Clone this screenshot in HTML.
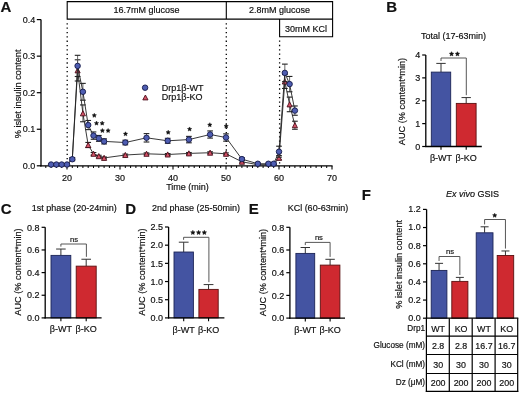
<!DOCTYPE html>
<html><head><meta charset="utf-8"><style>
html,body{margin:0;padding:0;background:#fff;}
body{width:520px;height:393px;overflow:hidden;}
svg{display:block;font-family:"Liberation Sans",sans-serif;will-change:transform;}
text{fill:#111;stroke:#111;stroke-width:0.18px;}
</style></head><body>
<svg width="520" height="393" viewBox="0 0 520 393">
<rect width="520" height="393" fill="#fff"/>
<g id="panelA">
<text x="0.5" y="12.2" font-size="15" font-weight="bold">A</text>
<path d="M67.2 19.1V1.6H332.6V36.8H279.6V19.1Z M67.2 19.1H332.6 M226.3 1.6V19.1" fill="none" stroke="#000" stroke-width="1.1"/>
<text x="146.5" y="12.8" font-size="9" text-anchor="middle">16.7mM glucose</text>
<text x="279.5" y="12.8" font-size="9" text-anchor="middle">2.8mM glucose</text>
<text x="306" y="31.6" font-size="9" text-anchor="middle">30mM KCl</text>
<line x1="67.2" y1="23.2" x2="67.2" y2="165" stroke="#000" stroke-width="1.3" stroke-dasharray="1.3 3.05"/>
<line x1="226.3" y1="23.2" x2="226.3" y2="165" stroke="#000" stroke-width="1.3" stroke-dasharray="1.3 3.05"/>
<line x1="279.6" y1="40.5" x2="279.6" y2="165" stroke="#000" stroke-width="1.3" stroke-dasharray="1.3 3.05"/>
<line x1="41" y1="19.5" x2="41" y2="166.4" stroke="#000" stroke-width="1.3"/>
<line x1="36.8" y1="165.8" x2="41" y2="165.8" stroke="#000" stroke-width="1.2"/>
<text x="35.2" y="169" font-size="9" text-anchor="end">0.0</text>
<line x1="36.8" y1="129.25" x2="41" y2="129.25" stroke="#000" stroke-width="1.2"/>
<text x="35.2" y="132.45" font-size="9" text-anchor="end">0.1</text>
<line x1="36.8" y1="92.7" x2="41" y2="92.7" stroke="#000" stroke-width="1.2"/>
<text x="35.2" y="95.9" font-size="9" text-anchor="end">0.2</text>
<line x1="36.8" y1="56.15" x2="41" y2="56.15" stroke="#000" stroke-width="1.2"/>
<text x="35.2" y="59.35" font-size="9" text-anchor="end">0.3</text>
<line x1="36.8" y1="19.6" x2="41" y2="19.6" stroke="#000" stroke-width="1.2"/>
<text x="35.2" y="22.8" font-size="9" text-anchor="end">0.4</text>
<line x1="40.4" y1="165.9" x2="332.6" y2="165.9" stroke="#000" stroke-width="1.3"/>
<line x1="45.8" y1="165.9" x2="45.8" y2="168" stroke="#000" stroke-width="1"/>
<line x1="51.1" y1="165.9" x2="51.1" y2="168" stroke="#000" stroke-width="1"/>
<line x1="56.4" y1="165.9" x2="56.4" y2="168" stroke="#000" stroke-width="1"/>
<line x1="61.7" y1="165.9" x2="61.7" y2="168" stroke="#000" stroke-width="1"/>
<line x1="67" y1="165.9" x2="67" y2="169.6" stroke="#000" stroke-width="1.1"/>
<line x1="72.3" y1="165.9" x2="72.3" y2="168" stroke="#000" stroke-width="1"/>
<line x1="77.6" y1="165.9" x2="77.6" y2="168" stroke="#000" stroke-width="1"/>
<line x1="82.9" y1="165.9" x2="82.9" y2="168" stroke="#000" stroke-width="1"/>
<line x1="88.2" y1="165.9" x2="88.2" y2="168" stroke="#000" stroke-width="1"/>
<line x1="93.5" y1="165.9" x2="93.5" y2="168" stroke="#000" stroke-width="1"/>
<line x1="98.8" y1="165.9" x2="98.8" y2="168" stroke="#000" stroke-width="1"/>
<line x1="104.1" y1="165.9" x2="104.1" y2="168" stroke="#000" stroke-width="1"/>
<line x1="109.4" y1="165.9" x2="109.4" y2="168" stroke="#000" stroke-width="1"/>
<line x1="114.7" y1="165.9" x2="114.7" y2="168" stroke="#000" stroke-width="1"/>
<line x1="120" y1="165.9" x2="120" y2="169.6" stroke="#000" stroke-width="1.1"/>
<line x1="125.3" y1="165.9" x2="125.3" y2="168" stroke="#000" stroke-width="1"/>
<line x1="130.6" y1="165.9" x2="130.6" y2="168" stroke="#000" stroke-width="1"/>
<line x1="135.9" y1="165.9" x2="135.9" y2="168" stroke="#000" stroke-width="1"/>
<line x1="141.2" y1="165.9" x2="141.2" y2="168" stroke="#000" stroke-width="1"/>
<line x1="146.5" y1="165.9" x2="146.5" y2="168" stroke="#000" stroke-width="1"/>
<line x1="151.8" y1="165.9" x2="151.8" y2="168" stroke="#000" stroke-width="1"/>
<line x1="157.1" y1="165.9" x2="157.1" y2="168" stroke="#000" stroke-width="1"/>
<line x1="162.4" y1="165.9" x2="162.4" y2="168" stroke="#000" stroke-width="1"/>
<line x1="167.7" y1="165.9" x2="167.7" y2="168" stroke="#000" stroke-width="1"/>
<line x1="173" y1="165.9" x2="173" y2="169.6" stroke="#000" stroke-width="1.1"/>
<line x1="178.3" y1="165.9" x2="178.3" y2="168" stroke="#000" stroke-width="1"/>
<line x1="183.6" y1="165.9" x2="183.6" y2="168" stroke="#000" stroke-width="1"/>
<line x1="188.9" y1="165.9" x2="188.9" y2="168" stroke="#000" stroke-width="1"/>
<line x1="194.2" y1="165.9" x2="194.2" y2="168" stroke="#000" stroke-width="1"/>
<line x1="199.5" y1="165.9" x2="199.5" y2="168" stroke="#000" stroke-width="1"/>
<line x1="204.8" y1="165.9" x2="204.8" y2="168" stroke="#000" stroke-width="1"/>
<line x1="210.1" y1="165.9" x2="210.1" y2="168" stroke="#000" stroke-width="1"/>
<line x1="215.4" y1="165.9" x2="215.4" y2="168" stroke="#000" stroke-width="1"/>
<line x1="220.7" y1="165.9" x2="220.7" y2="168" stroke="#000" stroke-width="1"/>
<line x1="226" y1="165.9" x2="226" y2="169.6" stroke="#000" stroke-width="1.1"/>
<line x1="231.3" y1="165.9" x2="231.3" y2="168" stroke="#000" stroke-width="1"/>
<line x1="236.6" y1="165.9" x2="236.6" y2="168" stroke="#000" stroke-width="1"/>
<line x1="241.9" y1="165.9" x2="241.9" y2="168" stroke="#000" stroke-width="1"/>
<line x1="247.2" y1="165.9" x2="247.2" y2="168" stroke="#000" stroke-width="1"/>
<line x1="252.5" y1="165.9" x2="252.5" y2="168" stroke="#000" stroke-width="1"/>
<line x1="257.8" y1="165.9" x2="257.8" y2="168" stroke="#000" stroke-width="1"/>
<line x1="263.1" y1="165.9" x2="263.1" y2="168" stroke="#000" stroke-width="1"/>
<line x1="268.4" y1="165.9" x2="268.4" y2="168" stroke="#000" stroke-width="1"/>
<line x1="273.7" y1="165.9" x2="273.7" y2="168" stroke="#000" stroke-width="1"/>
<line x1="279" y1="165.9" x2="279" y2="169.6" stroke="#000" stroke-width="1.1"/>
<line x1="284.3" y1="165.9" x2="284.3" y2="168" stroke="#000" stroke-width="1"/>
<line x1="289.6" y1="165.9" x2="289.6" y2="168" stroke="#000" stroke-width="1"/>
<line x1="294.9" y1="165.9" x2="294.9" y2="168" stroke="#000" stroke-width="1"/>
<line x1="300.2" y1="165.9" x2="300.2" y2="168" stroke="#000" stroke-width="1"/>
<line x1="305.5" y1="165.9" x2="305.5" y2="168" stroke="#000" stroke-width="1"/>
<line x1="310.8" y1="165.9" x2="310.8" y2="168" stroke="#000" stroke-width="1"/>
<line x1="316.1" y1="165.9" x2="316.1" y2="168" stroke="#000" stroke-width="1"/>
<line x1="321.4" y1="165.9" x2="321.4" y2="168" stroke="#000" stroke-width="1"/>
<line x1="326.7" y1="165.9" x2="326.7" y2="168" stroke="#000" stroke-width="1"/>
<line x1="332" y1="165.9" x2="332" y2="169.6" stroke="#000" stroke-width="1.1"/>
<text x="67" y="180.6" font-size="9" text-anchor="middle">20</text>
<text x="120" y="180.6" font-size="9" text-anchor="middle">30</text>
<text x="173" y="180.6" font-size="9" text-anchor="middle">40</text>
<text x="226" y="180.6" font-size="9" text-anchor="middle">50</text>
<text x="279" y="180.6" font-size="9" text-anchor="middle">60</text>
<text x="332" y="180.6" font-size="9" text-anchor="middle">70</text>
<text x="187.5" y="190.2" font-size="9" text-anchor="middle">Time (min)</text>
<text transform="translate(20.6 93.9) rotate(-90)" font-size="9.25" text-anchor="middle">% islet insulin content</text>
<line x1="51.1" y1="164.7" x2="51.1" y2="165.43" stroke="#555" stroke-width="0.9"/>
<line x1="48.25" y1="164.7" x2="53.95" y2="164.7" stroke="#222" stroke-width="1.1"/>
<line x1="48.25" y1="165.43" x2="53.95" y2="165.43" stroke="#222" stroke-width="1.1"/>
<line x1="56.4" y1="164.7" x2="56.4" y2="165.43" stroke="#555" stroke-width="0.9"/>
<line x1="53.55" y1="164.7" x2="59.25" y2="164.7" stroke="#222" stroke-width="1.1"/>
<line x1="53.55" y1="165.43" x2="59.25" y2="165.43" stroke="#222" stroke-width="1.1"/>
<line x1="61.7" y1="164.7" x2="61.7" y2="165.43" stroke="#555" stroke-width="0.9"/>
<line x1="58.85" y1="164.7" x2="64.55" y2="164.7" stroke="#222" stroke-width="1.1"/>
<line x1="58.85" y1="165.43" x2="64.55" y2="165.43" stroke="#222" stroke-width="1.1"/>
<line x1="67" y1="164.7" x2="67" y2="165.43" stroke="#555" stroke-width="0.9"/>
<line x1="64.15" y1="164.7" x2="69.85" y2="164.7" stroke="#222" stroke-width="1.1"/>
<line x1="64.15" y1="165.43" x2="69.85" y2="165.43" stroke="#222" stroke-width="1.1"/>
<line x1="72.3" y1="157.69" x2="72.3" y2="159.88" stroke="#555" stroke-width="0.9"/>
<line x1="69.45" y1="157.69" x2="75.15" y2="157.69" stroke="#222" stroke-width="1.1"/>
<line x1="69.45" y1="159.88" x2="75.15" y2="159.88" stroke="#222" stroke-width="1.1"/>
<line x1="77.6" y1="59.8" x2="77.6" y2="81" stroke="#555" stroke-width="0.9"/>
<line x1="74.75" y1="59.8" x2="80.45" y2="59.8" stroke="#222" stroke-width="1.1"/>
<line x1="74.75" y1="81" x2="80.45" y2="81" stroke="#222" stroke-width="1.1"/>
<line x1="82.9" y1="104.94" x2="82.9" y2="121.76" stroke="#555" stroke-width="0.9"/>
<line x1="80.05" y1="104.94" x2="85.75" y2="104.94" stroke="#222" stroke-width="1.1"/>
<line x1="80.05" y1="121.76" x2="85.75" y2="121.76" stroke="#222" stroke-width="1.1"/>
<line x1="88.2" y1="142.44" x2="88.2" y2="147.56" stroke="#555" stroke-width="0.9"/>
<line x1="85.35" y1="142.44" x2="91.05" y2="142.44" stroke="#222" stroke-width="1.1"/>
<line x1="85.35" y1="147.56" x2="91.05" y2="147.56" stroke="#222" stroke-width="1.1"/>
<line x1="93.5" y1="152.53" x2="93.5" y2="155.09" stroke="#555" stroke-width="0.9"/>
<line x1="90.65" y1="152.53" x2="96.35" y2="152.53" stroke="#222" stroke-width="1.1"/>
<line x1="90.65" y1="155.09" x2="96.35" y2="155.09" stroke="#222" stroke-width="1.1"/>
<line x1="98.8" y1="155.27" x2="98.8" y2="157.1" stroke="#555" stroke-width="0.9"/>
<line x1="95.95" y1="155.27" x2="101.65" y2="155.27" stroke="#222" stroke-width="1.1"/>
<line x1="95.95" y1="157.1" x2="101.65" y2="157.1" stroke="#222" stroke-width="1.1"/>
<line x1="104.1" y1="156.99" x2="104.1" y2="158.82" stroke="#555" stroke-width="0.9"/>
<line x1="101.25" y1="156.99" x2="106.95" y2="156.99" stroke="#222" stroke-width="1.1"/>
<line x1="101.25" y1="158.82" x2="106.95" y2="158.82" stroke="#222" stroke-width="1.1"/>
<line x1="125.3" y1="154.1" x2="125.3" y2="155.93" stroke="#555" stroke-width="0.9"/>
<line x1="122.45" y1="154.1" x2="128.15" y2="154.1" stroke="#222" stroke-width="1.1"/>
<line x1="122.45" y1="155.93" x2="128.15" y2="155.93" stroke="#222" stroke-width="1.1"/>
<line x1="146.5" y1="152.9" x2="146.5" y2="154.73" stroke="#555" stroke-width="0.9"/>
<line x1="143.65" y1="152.9" x2="149.35" y2="152.9" stroke="#222" stroke-width="1.1"/>
<line x1="143.65" y1="154.73" x2="149.35" y2="154.73" stroke="#222" stroke-width="1.1"/>
<line x1="167.7" y1="153.59" x2="167.7" y2="155.42" stroke="#555" stroke-width="0.9"/>
<line x1="164.85" y1="153.59" x2="170.55" y2="153.59" stroke="#222" stroke-width="1.1"/>
<line x1="164.85" y1="155.42" x2="170.55" y2="155.42" stroke="#222" stroke-width="1.1"/>
<line x1="188.9" y1="152.5" x2="188.9" y2="154.32" stroke="#555" stroke-width="0.9"/>
<line x1="186.05" y1="152.5" x2="191.75" y2="152.5" stroke="#222" stroke-width="1.1"/>
<line x1="186.05" y1="154.32" x2="191.75" y2="154.32" stroke="#222" stroke-width="1.1"/>
<line x1="210.1" y1="151.8" x2="210.1" y2="153.63" stroke="#555" stroke-width="0.9"/>
<line x1="207.25" y1="151.8" x2="212.95" y2="151.8" stroke="#222" stroke-width="1.1"/>
<line x1="207.25" y1="153.63" x2="212.95" y2="153.63" stroke="#222" stroke-width="1.1"/>
<line x1="226" y1="152.9" x2="226" y2="154.73" stroke="#555" stroke-width="0.9"/>
<line x1="223.15" y1="152.9" x2="228.85" y2="152.9" stroke="#222" stroke-width="1.1"/>
<line x1="223.15" y1="154.73" x2="228.85" y2="154.73" stroke="#222" stroke-width="1.1"/>
<line x1="241.9" y1="160.68" x2="241.9" y2="162.88" stroke="#555" stroke-width="0.9"/>
<line x1="239.05" y1="160.68" x2="244.75" y2="160.68" stroke="#222" stroke-width="1.1"/>
<line x1="239.05" y1="162.88" x2="244.75" y2="162.88" stroke="#222" stroke-width="1.1"/>
<line x1="257.8" y1="164.34" x2="257.8" y2="165.07" stroke="#555" stroke-width="0.9"/>
<line x1="254.95" y1="164.34" x2="260.65" y2="164.34" stroke="#222" stroke-width="1.1"/>
<line x1="254.95" y1="165.07" x2="260.65" y2="165.07" stroke="#222" stroke-width="1.1"/>
<line x1="268.4" y1="164.34" x2="268.4" y2="165.07" stroke="#555" stroke-width="0.9"/>
<line x1="265.55" y1="164.34" x2="271.25" y2="164.34" stroke="#222" stroke-width="1.1"/>
<line x1="265.55" y1="165.07" x2="271.25" y2="165.07" stroke="#222" stroke-width="1.1"/>
<line x1="273.7" y1="164.34" x2="273.7" y2="165.07" stroke="#555" stroke-width="0.9"/>
<line x1="270.85" y1="164.34" x2="276.55" y2="164.34" stroke="#222" stroke-width="1.1"/>
<line x1="270.85" y1="165.07" x2="276.55" y2="165.07" stroke="#222" stroke-width="1.1"/>
<line x1="279" y1="155.57" x2="279" y2="159.95" stroke="#555" stroke-width="0.9"/>
<line x1="276.15" y1="155.57" x2="281.85" y2="155.57" stroke="#222" stroke-width="1.1"/>
<line x1="276.15" y1="159.95" x2="281.85" y2="159.95" stroke="#222" stroke-width="1.1"/>
<line x1="284.83" y1="74.57" x2="284.83" y2="88.46" stroke="#555" stroke-width="0.9"/>
<line x1="281.98" y1="74.57" x2="287.68" y2="74.57" stroke="#222" stroke-width="1.1"/>
<line x1="281.98" y1="88.46" x2="287.68" y2="88.46" stroke="#222" stroke-width="1.1"/>
<line x1="289.6" y1="97.09" x2="289.6" y2="111.71" stroke="#555" stroke-width="0.9"/>
<line x1="286.75" y1="97.09" x2="292.45" y2="97.09" stroke="#222" stroke-width="1.1"/>
<line x1="286.75" y1="111.71" x2="292.45" y2="111.71" stroke="#222" stroke-width="1.1"/>
<line x1="294.9" y1="121.21" x2="294.9" y2="129.25" stroke="#555" stroke-width="0.9"/>
<line x1="292.05" y1="121.21" x2="297.75" y2="121.21" stroke="#222" stroke-width="1.1"/>
<line x1="292.05" y1="129.25" x2="297.75" y2="129.25" stroke="#222" stroke-width="1.1"/>
<polyline points="51.1,165.07 56.4,165.07 61.7,165.07 67,165.07 72.3,158.78 77.6,70.4 82.9,113.35 88.2,145 93.5,153.81 98.8,156.19 104.1,157.91 125.3,155.02 146.5,153.81 167.7,154.51 188.9,153.41 210.1,152.72 226,153.81 241.9,161.78 257.8,164.7 268.4,164.7 273.7,164.7 279,157.76 284.83,81.52 289.6,104.4 294.9,125.23" fill="none" stroke="#222" stroke-width="0.9"/>
<path d="M77.6 67.8L80.15 72.9L75.05 72.9Z" fill="#d65468" stroke="#4a0c1a" stroke-width="0.9" stroke-linejoin="round"/>
<path d="M82.9 110.75L85.45 115.85L80.35 115.85Z" fill="#d65468" stroke="#4a0c1a" stroke-width="0.9" stroke-linejoin="round"/>
<path d="M88.2 142.4L90.75 147.5L85.65 147.5Z" fill="#d65468" stroke="#4a0c1a" stroke-width="0.9" stroke-linejoin="round"/>
<path d="M93.5 151.21L96.05 156.31L90.95 156.31Z" fill="#d65468" stroke="#4a0c1a" stroke-width="0.9" stroke-linejoin="round"/>
<path d="M98.8 153.59L101.35 158.69L96.25 158.69Z" fill="#d65468" stroke="#4a0c1a" stroke-width="0.9" stroke-linejoin="round"/>
<path d="M104.1 155.31L106.65 160.41L101.55 160.41Z" fill="#d65468" stroke="#4a0c1a" stroke-width="0.9" stroke-linejoin="round"/>
<path d="M125.3 152.42L127.85 157.52L122.75 157.52Z" fill="#d65468" stroke="#4a0c1a" stroke-width="0.9" stroke-linejoin="round"/>
<path d="M146.5 151.21L149.05 156.31L143.95 156.31Z" fill="#d65468" stroke="#4a0c1a" stroke-width="0.9" stroke-linejoin="round"/>
<path d="M167.7 151.91L170.25 157.01L165.15 157.01Z" fill="#d65468" stroke="#4a0c1a" stroke-width="0.9" stroke-linejoin="round"/>
<path d="M188.9 150.81L191.45 155.91L186.35 155.91Z" fill="#d65468" stroke="#4a0c1a" stroke-width="0.9" stroke-linejoin="round"/>
<path d="M210.1 150.12L212.65 155.22L207.55 155.22Z" fill="#d65468" stroke="#4a0c1a" stroke-width="0.9" stroke-linejoin="round"/>
<path d="M226 151.21L228.55 156.31L223.45 156.31Z" fill="#d65468" stroke="#4a0c1a" stroke-width="0.9" stroke-linejoin="round"/>
<path d="M241.9 159.18L244.45 164.28L239.35 164.28Z" fill="#d65468" stroke="#4a0c1a" stroke-width="0.9" stroke-linejoin="round"/>
<path d="M279 155.16L281.55 160.26L276.45 160.26Z" fill="#d65468" stroke="#4a0c1a" stroke-width="0.9" stroke-linejoin="round"/>
<path d="M284.83 78.92L287.38 84.02L282.28 84.02Z" fill="#d65468" stroke="#4a0c1a" stroke-width="0.9" stroke-linejoin="round"/>
<path d="M289.6 101.8L292.15 106.9L287.05 106.9Z" fill="#d65468" stroke="#4a0c1a" stroke-width="0.9" stroke-linejoin="round"/>
<path d="M294.9 122.63L297.45 127.73L292.35 127.73Z" fill="#d65468" stroke="#4a0c1a" stroke-width="0.9" stroke-linejoin="round"/>
<line x1="51.1" y1="163.79" x2="51.1" y2="165.25" stroke="#555" stroke-width="0.9"/>
<line x1="48.25" y1="163.79" x2="53.95" y2="163.79" stroke="#222" stroke-width="1.1"/>
<line x1="48.25" y1="165.25" x2="53.95" y2="165.25" stroke="#222" stroke-width="1.1"/>
<line x1="56.4" y1="163.79" x2="56.4" y2="165.25" stroke="#555" stroke-width="0.9"/>
<line x1="53.55" y1="163.79" x2="59.25" y2="163.79" stroke="#222" stroke-width="1.1"/>
<line x1="53.55" y1="165.25" x2="59.25" y2="165.25" stroke="#222" stroke-width="1.1"/>
<line x1="61.7" y1="163.79" x2="61.7" y2="165.25" stroke="#555" stroke-width="0.9"/>
<line x1="58.85" y1="163.79" x2="64.55" y2="163.79" stroke="#222" stroke-width="1.1"/>
<line x1="58.85" y1="165.25" x2="64.55" y2="165.25" stroke="#222" stroke-width="1.1"/>
<line x1="67" y1="163.79" x2="67" y2="165.25" stroke="#555" stroke-width="0.9"/>
<line x1="64.15" y1="163.79" x2="69.85" y2="163.79" stroke="#222" stroke-width="1.1"/>
<line x1="64.15" y1="165.25" x2="69.85" y2="165.25" stroke="#222" stroke-width="1.1"/>
<line x1="72.3" y1="157.76" x2="72.3" y2="160.68" stroke="#555" stroke-width="0.9"/>
<line x1="69.45" y1="157.76" x2="75.15" y2="157.76" stroke="#222" stroke-width="1.1"/>
<line x1="69.45" y1="160.68" x2="75.15" y2="160.68" stroke="#222" stroke-width="1.1"/>
<line x1="77.6" y1="55.31" x2="77.6" y2="76.51" stroke="#555" stroke-width="0.9"/>
<line x1="74.75" y1="55.31" x2="80.45" y2="55.31" stroke="#222" stroke-width="1.1"/>
<line x1="74.75" y1="76.51" x2="80.45" y2="76.51" stroke="#222" stroke-width="1.1"/>
<line x1="82.9" y1="83.38" x2="82.9" y2="100.19" stroke="#555" stroke-width="0.9"/>
<line x1="80.05" y1="83.38" x2="85.75" y2="83.38" stroke="#222" stroke-width="1.1"/>
<line x1="80.05" y1="100.19" x2="85.75" y2="100.19" stroke="#222" stroke-width="1.1"/>
<line x1="88.2" y1="120.48" x2="88.2" y2="129.62" stroke="#555" stroke-width="0.9"/>
<line x1="85.35" y1="120.48" x2="91.05" y2="120.48" stroke="#222" stroke-width="1.1"/>
<line x1="85.35" y1="129.62" x2="91.05" y2="129.62" stroke="#222" stroke-width="1.1"/>
<line x1="93.5" y1="131.95" x2="93.5" y2="139.26" stroke="#555" stroke-width="0.9"/>
<line x1="90.65" y1="131.95" x2="96.35" y2="131.95" stroke="#222" stroke-width="1.1"/>
<line x1="90.65" y1="139.26" x2="96.35" y2="139.26" stroke="#222" stroke-width="1.1"/>
<line x1="98.8" y1="135.46" x2="98.8" y2="141.31" stroke="#555" stroke-width="0.9"/>
<line x1="95.95" y1="135.46" x2="101.65" y2="135.46" stroke="#222" stroke-width="1.1"/>
<line x1="95.95" y1="141.31" x2="101.65" y2="141.31" stroke="#222" stroke-width="1.1"/>
<line x1="104.1" y1="138.83" x2="104.1" y2="143.94" stroke="#555" stroke-width="0.9"/>
<line x1="101.25" y1="138.83" x2="106.95" y2="138.83" stroke="#222" stroke-width="1.1"/>
<line x1="101.25" y1="143.94" x2="106.95" y2="143.94" stroke="#222" stroke-width="1.1"/>
<line x1="125.3" y1="140.22" x2="125.3" y2="144.82" stroke="#555" stroke-width="0.9"/>
<line x1="122.45" y1="140.22" x2="128.15" y2="140.22" stroke="#222" stroke-width="1.1"/>
<line x1="122.45" y1="144.82" x2="128.15" y2="144.82" stroke="#222" stroke-width="1.1"/>
<line x1="146.5" y1="133.6" x2="146.5" y2="142.01" stroke="#555" stroke-width="0.9"/>
<line x1="143.65" y1="133.6" x2="149.35" y2="133.6" stroke="#222" stroke-width="1.1"/>
<line x1="143.65" y1="142.01" x2="149.35" y2="142.01" stroke="#222" stroke-width="1.1"/>
<line x1="167.7" y1="138.31" x2="167.7" y2="143.29" stroke="#555" stroke-width="0.9"/>
<line x1="164.85" y1="138.31" x2="170.55" y2="138.31" stroke="#222" stroke-width="1.1"/>
<line x1="164.85" y1="143.29" x2="170.55" y2="143.29" stroke="#222" stroke-width="1.1"/>
<line x1="188.9" y1="136.38" x2="188.9" y2="142.81" stroke="#555" stroke-width="0.9"/>
<line x1="186.05" y1="136.38" x2="191.75" y2="136.38" stroke="#222" stroke-width="1.1"/>
<line x1="186.05" y1="142.81" x2="191.75" y2="142.81" stroke="#222" stroke-width="1.1"/>
<line x1="210.1" y1="130.93" x2="210.1" y2="138.1" stroke="#555" stroke-width="0.9"/>
<line x1="207.25" y1="130.93" x2="212.95" y2="130.93" stroke="#222" stroke-width="1.1"/>
<line x1="207.25" y1="138.1" x2="212.95" y2="138.1" stroke="#222" stroke-width="1.1"/>
<line x1="226" y1="133.86" x2="226" y2="141.17" stroke="#555" stroke-width="0.9"/>
<line x1="223.15" y1="133.86" x2="228.85" y2="133.86" stroke="#222" stroke-width="1.1"/>
<line x1="223.15" y1="141.17" x2="228.85" y2="141.17" stroke="#222" stroke-width="1.1"/>
<line x1="241.9" y1="157.65" x2="241.9" y2="160.57" stroke="#555" stroke-width="0.9"/>
<line x1="239.05" y1="157.65" x2="244.75" y2="157.65" stroke="#222" stroke-width="1.1"/>
<line x1="239.05" y1="160.57" x2="244.75" y2="160.57" stroke="#222" stroke-width="1.1"/>
<line x1="257.8" y1="163.02" x2="257.8" y2="164.48" stroke="#555" stroke-width="0.9"/>
<line x1="254.95" y1="163.02" x2="260.65" y2="163.02" stroke="#222" stroke-width="1.1"/>
<line x1="254.95" y1="164.48" x2="260.65" y2="164.48" stroke="#222" stroke-width="1.1"/>
<line x1="268.4" y1="163.02" x2="268.4" y2="164.48" stroke="#555" stroke-width="0.9"/>
<line x1="265.55" y1="163.02" x2="271.25" y2="163.02" stroke="#222" stroke-width="1.1"/>
<line x1="265.55" y1="164.48" x2="271.25" y2="164.48" stroke="#222" stroke-width="1.1"/>
<line x1="273.7" y1="163.02" x2="273.7" y2="164.48" stroke="#555" stroke-width="0.9"/>
<line x1="270.85" y1="163.02" x2="276.55" y2="163.02" stroke="#222" stroke-width="1.1"/>
<line x1="270.85" y1="164.48" x2="276.55" y2="164.48" stroke="#222" stroke-width="1.1"/>
<line x1="279" y1="146.21" x2="279" y2="157.17" stroke="#555" stroke-width="0.9"/>
<line x1="276.15" y1="146.21" x2="281.85" y2="146.21" stroke="#222" stroke-width="1.1"/>
<line x1="276.15" y1="157.17" x2="281.85" y2="157.17" stroke="#222" stroke-width="1.1"/>
<line x1="284.83" y1="64.12" x2="284.83" y2="81.66" stroke="#555" stroke-width="0.9"/>
<line x1="281.98" y1="64.12" x2="287.68" y2="64.12" stroke="#222" stroke-width="1.1"/>
<line x1="281.98" y1="81.66" x2="287.68" y2="81.66" stroke="#222" stroke-width="1.1"/>
<line x1="289.6" y1="76.44" x2="289.6" y2="91.79" stroke="#555" stroke-width="0.9"/>
<line x1="286.75" y1="76.44" x2="292.45" y2="76.44" stroke="#222" stroke-width="1.1"/>
<line x1="286.75" y1="91.79" x2="292.45" y2="91.79" stroke="#222" stroke-width="1.1"/>
<line x1="294.9" y1="105.97" x2="294.9" y2="115.25" stroke="#555" stroke-width="0.9"/>
<line x1="292.05" y1="105.97" x2="297.75" y2="105.97" stroke="#222" stroke-width="1.1"/>
<line x1="292.05" y1="115.25" x2="297.75" y2="115.25" stroke="#222" stroke-width="1.1"/>
<polyline points="51.1,164.52 56.4,164.52 61.7,164.52 67,164.52 72.3,159.22 77.6,65.91 82.9,91.79 88.2,125.05 93.5,135.61 98.8,138.39 104.1,141.38 125.3,142.52 146.5,137.8 167.7,140.8 188.9,139.59 210.1,134.51 226,137.51 241.9,159.11 257.8,163.75 268.4,163.75 273.7,163.75 279,151.69 284.83,72.89 289.6,84.11 294.9,110.61" fill="none" stroke="#222" stroke-width="0.9"/>
<circle cx="51.1" cy="164.52" r="2.75" fill="#4e5db2" stroke="#151a48" stroke-width="0.9"/>
<circle cx="56.4" cy="164.52" r="2.75" fill="#4e5db2" stroke="#151a48" stroke-width="0.9"/>
<circle cx="61.7" cy="164.52" r="2.75" fill="#4e5db2" stroke="#151a48" stroke-width="0.9"/>
<circle cx="67" cy="164.52" r="2.75" fill="#4e5db2" stroke="#151a48" stroke-width="0.9"/>
<circle cx="72.3" cy="159.22" r="2.75" fill="#4e5db2" stroke="#151a48" stroke-width="0.9"/>
<circle cx="77.6" cy="65.91" r="2.75" fill="#4e5db2" stroke="#151a48" stroke-width="0.9"/>
<circle cx="82.9" cy="91.79" r="2.75" fill="#4e5db2" stroke="#151a48" stroke-width="0.9"/>
<circle cx="88.2" cy="125.05" r="2.75" fill="#4e5db2" stroke="#151a48" stroke-width="0.9"/>
<circle cx="93.5" cy="135.61" r="2.75" fill="#4e5db2" stroke="#151a48" stroke-width="0.9"/>
<circle cx="98.8" cy="138.39" r="2.75" fill="#4e5db2" stroke="#151a48" stroke-width="0.9"/>
<circle cx="104.1" cy="141.38" r="2.75" fill="#4e5db2" stroke="#151a48" stroke-width="0.9"/>
<circle cx="125.3" cy="142.52" r="2.75" fill="#4e5db2" stroke="#151a48" stroke-width="0.9"/>
<circle cx="146.5" cy="137.8" r="2.75" fill="#4e5db2" stroke="#151a48" stroke-width="0.9"/>
<circle cx="167.7" cy="140.8" r="2.75" fill="#4e5db2" stroke="#151a48" stroke-width="0.9"/>
<circle cx="188.9" cy="139.59" r="2.75" fill="#4e5db2" stroke="#151a48" stroke-width="0.9"/>
<circle cx="210.1" cy="134.51" r="2.75" fill="#4e5db2" stroke="#151a48" stroke-width="0.9"/>
<circle cx="226" cy="137.51" r="2.75" fill="#4e5db2" stroke="#151a48" stroke-width="0.9"/>
<circle cx="241.9" cy="159.11" r="2.75" fill="#4e5db2" stroke="#151a48" stroke-width="0.9"/>
<circle cx="257.8" cy="163.75" r="2.75" fill="#4e5db2" stroke="#151a48" stroke-width="0.9"/>
<circle cx="268.4" cy="163.75" r="2.75" fill="#4e5db2" stroke="#151a48" stroke-width="0.9"/>
<circle cx="273.7" cy="163.75" r="2.75" fill="#4e5db2" stroke="#151a48" stroke-width="0.9"/>
<circle cx="279" cy="151.69" r="2.75" fill="#4e5db2" stroke="#151a48" stroke-width="0.9"/>
<circle cx="284.83" cy="72.89" r="2.75" fill="#4e5db2" stroke="#151a48" stroke-width="0.9"/>
<circle cx="289.6" cy="84.11" r="2.75" fill="#4e5db2" stroke="#151a48" stroke-width="0.9"/>
<circle cx="294.9" cy="110.61" r="2.75" fill="#4e5db2" stroke="#151a48" stroke-width="0.9"/>
<path d="M94.3 113.25L94.96 114.59L96.44 114.8L95.37 115.85L95.62 117.32L94.3 116.62L92.98 117.32L93.23 115.85L92.16 114.8L93.64 114.59Z" fill="#111" stroke="#111" stroke-width="0.45" stroke-linejoin="round"/>
<path d="M96.5 121.05L97.16 122.39L98.64 122.6L97.57 123.65L97.82 125.12L96.5 124.42L95.18 125.12L95.43 123.65L94.36 122.6L95.84 122.39ZM102.2 121.05L102.86 122.39L104.34 122.6L103.27 123.65L103.52 125.12L102.2 124.42L100.88 125.12L101.13 123.65L100.06 122.6L101.54 122.39Z" fill="#111" stroke="#111" stroke-width="0.45" stroke-linejoin="round"/>
<path d="M102.4 128.45L103.06 129.79L104.54 130L103.47 131.05L103.72 132.52L102.4 131.82L101.08 132.52L101.33 131.05L100.26 130L101.74 129.79ZM108.1 128.45L108.76 129.79L110.24 130L109.17 131.05L109.42 132.52L108.1 131.82L106.78 132.52L107.03 131.05L105.96 130L107.44 129.79Z" fill="#111" stroke="#111" stroke-width="0.45" stroke-linejoin="round"/>
<path d="M125.5 131.75L126.16 133.09L127.64 133.3L126.57 134.35L126.82 135.82L125.5 135.12L124.18 135.82L124.43 134.35L123.36 133.3L124.84 133.09Z" fill="#111" stroke="#111" stroke-width="0.45" stroke-linejoin="round"/>
<path d="M168.2 130.15L168.86 131.49L170.34 131.7L169.27 132.75L169.52 134.22L168.2 133.53L166.88 134.22L167.13 132.75L166.06 131.7L167.54 131.49Z" fill="#111" stroke="#111" stroke-width="0.45" stroke-linejoin="round"/>
<path d="M189.6 126.95L190.26 128.29L191.74 128.5L190.67 129.55L190.92 131.02L189.6 130.32L188.28 131.02L188.53 129.55L187.46 128.5L188.94 128.29Z" fill="#111" stroke="#111" stroke-width="0.45" stroke-linejoin="round"/>
<path d="M209.8 122.65L210.46 123.99L211.94 124.2L210.87 125.25L211.12 126.72L209.8 126.03L208.48 126.72L208.73 125.25L207.66 124.2L209.14 123.99Z" fill="#111" stroke="#111" stroke-width="0.45" stroke-linejoin="round"/>
<path d="M226.2 123.95L226.86 125.29L228.34 125.5L227.27 126.55L227.52 128.02L226.2 127.33L224.88 128.02L225.13 126.55L224.06 125.5L225.54 125.29Z" fill="#111" stroke="#111" stroke-width="0.45" stroke-linejoin="round"/>
<circle cx="145.1" cy="87.7" r="2.75" fill="#4e5db2" stroke="#151a48" stroke-width="0.9"/>
<path d="M145.4 95.0L148.0 99.9L142.8 99.9Z" fill="#d65468" stroke="#4a0c1a" stroke-width="0.9" stroke-linejoin="round"/>
<text x="161.8" y="90.9" font-size="9">Drp1&#946;-WT</text>
<text x="161.8" y="100.3" font-size="9">Drp1&#946;-KO</text>
</g>
<text x="386.3" y="12" font-size="15" font-weight="bold">B</text>
<text x="453.5" y="38.8" font-size="9" text-anchor="middle">Total (17-63min)</text>
<text transform="translate(404.6 101.5) rotate(-90)" font-size="9.2" text-anchor="middle">AUC (% content*min)</text>
<line x1="441" y1="72.11" x2="441" y2="63.4" stroke="#333" stroke-width="1"/>
<line x1="436.3" y1="63.4" x2="445.7" y2="63.4" stroke="#333" stroke-width="1"/>
<rect x="431.3" y="72.11" width="19.4" height="74.39" fill="#4454a2" stroke="#1c2456" stroke-width="0.9"/>
<line x1="466.2" y1="103.4" x2="466.2" y2="97.59" stroke="#333" stroke-width="1"/>
<line x1="461.5" y1="97.59" x2="470.9" y2="97.59" stroke="#333" stroke-width="1"/>
<rect x="456.3" y="103.4" width="19.8" height="43.1" fill="#cf2930" stroke="#5a1010" stroke-width="0.9"/>
<line x1="425.8" y1="55" x2="425.8" y2="147.1" stroke="#000" stroke-width="1.3"/>
<line x1="425.2" y1="146.5" x2="481.8" y2="146.5" stroke="#000" stroke-width="1.3"/>
<line x1="422.2" y1="146.5" x2="425.8" y2="146.5" stroke="#000" stroke-width="1.2"/>
<text x="420.2" y="149.7" font-size="9" text-anchor="end">0</text>
<line x1="422.2" y1="123.62" x2="425.8" y2="123.62" stroke="#000" stroke-width="1.2"/>
<text x="420.2" y="126.83" font-size="9" text-anchor="end">1</text>
<line x1="422.2" y1="100.75" x2="425.8" y2="100.75" stroke="#000" stroke-width="1.2"/>
<text x="420.2" y="103.95" font-size="9" text-anchor="end">2</text>
<line x1="422.2" y1="77.88" x2="425.8" y2="77.88" stroke="#000" stroke-width="1.2"/>
<text x="420.2" y="81.08" font-size="9" text-anchor="end">3</text>
<line x1="422.2" y1="55" x2="425.8" y2="55" stroke="#000" stroke-width="1.2"/>
<text x="420.2" y="58.2" font-size="9" text-anchor="end">4</text>
<line x1="441" y1="146.5" x2="441" y2="149.8" stroke="#000" stroke-width="1.1"/>
<line x1="466.2" y1="146.5" x2="466.2" y2="149.8" stroke="#000" stroke-width="1.1"/>
<text x="441" y="160.7" font-size="9" text-anchor="middle">&#946;-WT</text>
<text x="466.2" y="160.7" font-size="9" text-anchor="middle">&#946;-KO</text>
<path d="M441 61V58H466.3V95.19" fill="none" stroke="#444" stroke-width="0.9"/>
<path d="M451.55 51.65L452.24 53.05L453.78 53.27L452.67 54.36L452.93 55.9L451.55 55.17L450.17 55.9L450.43 54.36L449.32 53.27L450.86 53.05ZM457.45 51.65L458.14 53.05L459.68 53.27L458.57 54.36L458.83 55.9L457.45 55.17L456.07 55.9L456.33 54.36L455.22 53.27L456.76 53.05Z" fill="#111" stroke="#111" stroke-width="0.45" stroke-linejoin="round"/>
<text x="0.8" y="213.8" font-size="15" font-weight="bold">C</text>
<text x="74.2" y="211.2" font-size="9" text-anchor="middle">1st phase (20-24min)</text>
<text transform="translate(21.2 272) rotate(-90)" font-size="9.2" text-anchor="middle">AUC (% content*min)</text>
<line x1="60.9" y1="255.39" x2="60.9" y2="249.04" stroke="#333" stroke-width="1"/>
<line x1="56.1" y1="249.04" x2="65.7" y2="249.04" stroke="#333" stroke-width="1"/>
<rect x="51" y="255.39" width="19.8" height="62.51" fill="#4454a2" stroke="#1c2456" stroke-width="0.9"/>
<line x1="86.2" y1="266.14" x2="86.2" y2="259.24" stroke="#333" stroke-width="1"/>
<line x1="81.4" y1="259.24" x2="91" y2="259.24" stroke="#333" stroke-width="1"/>
<rect x="76.2" y="266.14" width="20" height="51.76" fill="#cf2930" stroke="#5a1010" stroke-width="0.9"/>
<line x1="45.2" y1="227.3" x2="45.2" y2="318.5" stroke="#000" stroke-width="1.3"/>
<line x1="44.6" y1="317.9" x2="101.6" y2="317.9" stroke="#000" stroke-width="1.3"/>
<line x1="41.6" y1="317.9" x2="45.2" y2="317.9" stroke="#000" stroke-width="1.2"/>
<text x="39.6" y="321.1" font-size="9" text-anchor="end">0.0</text>
<line x1="41.6" y1="295.25" x2="45.2" y2="295.25" stroke="#000" stroke-width="1.2"/>
<text x="39.6" y="298.45" font-size="9" text-anchor="end">0.2</text>
<line x1="41.6" y1="272.6" x2="45.2" y2="272.6" stroke="#000" stroke-width="1.2"/>
<text x="39.6" y="275.8" font-size="9" text-anchor="end">0.4</text>
<line x1="41.6" y1="249.95" x2="45.2" y2="249.95" stroke="#000" stroke-width="1.2"/>
<text x="39.6" y="253.15" font-size="9" text-anchor="end">0.6</text>
<line x1="41.6" y1="227.3" x2="45.2" y2="227.3" stroke="#000" stroke-width="1.2"/>
<text x="39.6" y="230.5" font-size="9" text-anchor="end">0.8</text>
<line x1="60.9" y1="317.9" x2="60.9" y2="321.2" stroke="#000" stroke-width="1.1"/>
<line x1="86.2" y1="317.9" x2="86.2" y2="321.2" stroke="#000" stroke-width="1.1"/>
<text x="60.9" y="332.3" font-size="9" text-anchor="middle">&#946;-WT</text>
<text x="86.2" y="332.3" font-size="9" text-anchor="middle">&#946;-KO</text>
<path d="M60.9 246.64V244H86.4V256.84" fill="none" stroke="#444" stroke-width="0.9"/>
<text x="74" y="242.2" font-size="7.6" text-anchor="middle">ns</text>
<text x="125.2" y="213.8" font-size="15" font-weight="bold">D</text>
<text x="196" y="211.2" font-size="9" text-anchor="middle">2nd phase (25-50min)</text>
<text transform="translate(145 272) rotate(-90)" font-size="9.2" text-anchor="middle">AUC (% content*min)</text>
<line x1="183.7" y1="252.02" x2="183.7" y2="242.2" stroke="#333" stroke-width="1"/>
<line x1="178.8" y1="242.2" x2="188.6" y2="242.2" stroke="#333" stroke-width="1"/>
<rect x="174" y="252.02" width="19.4" height="65.88" fill="#4454a2" stroke="#1c2456" stroke-width="0.9"/>
<line x1="208.55" y1="289.39" x2="208.55" y2="284.59" stroke="#333" stroke-width="1"/>
<line x1="203.65" y1="284.59" x2="213.45" y2="284.59" stroke="#333" stroke-width="1"/>
<rect x="198.9" y="289.39" width="19.3" height="28.51" fill="#cf2930" stroke="#5a1010" stroke-width="0.9"/>
<line x1="168.6" y1="227" x2="168.6" y2="318.5" stroke="#000" stroke-width="1.3"/>
<line x1="168" y1="317.9" x2="224.4" y2="317.9" stroke="#000" stroke-width="1.3"/>
<line x1="165" y1="317.9" x2="168.6" y2="317.9" stroke="#000" stroke-width="1.2"/>
<text x="163" y="321.1" font-size="9" text-anchor="end">0.0</text>
<line x1="165" y1="299.72" x2="168.6" y2="299.72" stroke="#000" stroke-width="1.2"/>
<text x="163" y="302.92" font-size="9" text-anchor="end">0.5</text>
<line x1="165" y1="281.54" x2="168.6" y2="281.54" stroke="#000" stroke-width="1.2"/>
<text x="163" y="284.74" font-size="9" text-anchor="end">1.0</text>
<line x1="165" y1="263.36" x2="168.6" y2="263.36" stroke="#000" stroke-width="1.2"/>
<text x="163" y="266.56" font-size="9" text-anchor="end">1.5</text>
<line x1="165" y1="245.18" x2="168.6" y2="245.18" stroke="#000" stroke-width="1.2"/>
<text x="163" y="248.38" font-size="9" text-anchor="end">2.0</text>
<line x1="165" y1="227" x2="168.6" y2="227" stroke="#000" stroke-width="1.2"/>
<text x="163" y="230.2" font-size="9" text-anchor="end">2.5</text>
<line x1="183.7" y1="317.9" x2="183.7" y2="321.2" stroke="#000" stroke-width="1.1"/>
<line x1="208.55" y1="317.9" x2="208.55" y2="321.2" stroke="#000" stroke-width="1.1"/>
<text x="183.7" y="332.8" font-size="9" text-anchor="middle">&#946;-WT</text>
<text x="208.55" y="332.8" font-size="9" text-anchor="middle">&#946;-KO</text>
<path d="M183.6 239.8V237.3H208.9V282.19" fill="none" stroke="#444" stroke-width="0.9"/>
<path d="M192.85 230.25L193.54 231.65L195.08 231.87L193.97 232.96L194.23 234.5L192.85 233.78L191.47 234.5L191.73 232.96L190.62 231.87L192.16 231.65ZM198.6 230.25L199.29 231.65L200.83 231.87L199.72 232.96L199.98 234.5L198.6 233.78L197.22 234.5L197.48 232.96L196.37 231.87L197.91 231.65ZM204.35 230.25L205.04 231.65L206.58 231.87L205.47 232.96L205.73 234.5L204.35 233.78L202.97 234.5L203.23 232.96L202.12 231.87L203.66 231.65Z" fill="#111" stroke="#111" stroke-width="0.45" stroke-linejoin="round"/>
<text x="248.8" y="214.2" font-size="15" font-weight="bold">E</text>
<text x="317.9" y="211.2" font-size="9" text-anchor="middle">KCl (60-63min)</text>
<text transform="translate(266 272.5) rotate(-90)" font-size="9.2" text-anchor="middle">AUC (% content*min)</text>
<line x1="305.3" y1="253.41" x2="305.3" y2="247.5" stroke="#333" stroke-width="1"/>
<line x1="300.6" y1="247.5" x2="310" y2="247.5" stroke="#333" stroke-width="1"/>
<rect x="295.9" y="253.41" width="18.8" height="64.69" fill="#4454a2" stroke="#1c2456" stroke-width="0.9"/>
<line x1="330.1" y1="265.1" x2="330.1" y2="259.31" stroke="#333" stroke-width="1"/>
<line x1="325.4" y1="259.31" x2="334.8" y2="259.31" stroke="#333" stroke-width="1"/>
<rect x="320.3" y="265.1" width="19.6" height="53" fill="#cf2930" stroke="#5a1010" stroke-width="0.9"/>
<line x1="289.9" y1="227.3" x2="289.9" y2="318.7" stroke="#000" stroke-width="1.3"/>
<line x1="289.3" y1="318.1" x2="345" y2="318.1" stroke="#000" stroke-width="1.3"/>
<line x1="286.3" y1="318.1" x2="289.9" y2="318.1" stroke="#000" stroke-width="1.2"/>
<text x="284.3" y="321.3" font-size="9" text-anchor="end">0.0</text>
<line x1="286.3" y1="295.4" x2="289.9" y2="295.4" stroke="#000" stroke-width="1.2"/>
<text x="284.3" y="298.6" font-size="9" text-anchor="end">0.2</text>
<line x1="286.3" y1="272.7" x2="289.9" y2="272.7" stroke="#000" stroke-width="1.2"/>
<text x="284.3" y="275.9" font-size="9" text-anchor="end">0.4</text>
<line x1="286.3" y1="250" x2="289.9" y2="250" stroke="#000" stroke-width="1.2"/>
<text x="284.3" y="253.2" font-size="9" text-anchor="end">0.6</text>
<line x1="286.3" y1="227.3" x2="289.9" y2="227.3" stroke="#000" stroke-width="1.2"/>
<text x="284.3" y="230.5" font-size="9" text-anchor="end">0.8</text>
<line x1="305.3" y1="318.1" x2="305.3" y2="321.4" stroke="#000" stroke-width="1.1"/>
<line x1="330.1" y1="318.1" x2="330.1" y2="321.4" stroke="#000" stroke-width="1.1"/>
<text x="305.3" y="332.8" font-size="9" text-anchor="middle">&#946;-WT</text>
<text x="330.1" y="332.8" font-size="9" text-anchor="middle">&#946;-KO</text>
<path d="M305.3 245.1V242.4H330.1V256.91" fill="none" stroke="#444" stroke-width="0.9"/>
<text x="318.9" y="240.3" font-size="7.6" text-anchor="middle">ns</text>
<text x="361.8" y="199.9" font-size="15" font-weight="bold">F</text>
<text x="472.4" y="197.0" font-size="9" text-anchor="middle"><tspan font-style="italic">Ex vivo</tspan> GSIS</text>
<text transform="translate(401.5 264.3) rotate(-90)" font-size="9.25" text-anchor="middle">% islet insulin content</text>
<line x1="439.05" y1="270.42" x2="439.05" y2="263.35" stroke="#333" stroke-width="1"/>
<line x1="435.05" y1="263.35" x2="443.05" y2="263.35" stroke="#333" stroke-width="1"/>
<rect x="431.2" y="270.42" width="15.7" height="47.78" fill="#4454a2" stroke="#1c2456" stroke-width="0.9"/>
<line x1="459.85" y1="281.39" x2="459.85" y2="277.4" stroke="#333" stroke-width="1"/>
<line x1="455.85" y1="277.4" x2="463.85" y2="277.4" stroke="#333" stroke-width="1"/>
<rect x="451.8" y="281.39" width="16.1" height="36.81" fill="#cf2930" stroke="#5a1010" stroke-width="0.9"/>
<line x1="484.6" y1="232.79" x2="484.6" y2="226.81" stroke="#333" stroke-width="1"/>
<line x1="480.6" y1="226.81" x2="488.6" y2="226.81" stroke="#333" stroke-width="1"/>
<rect x="476.2" y="232.79" width="16.8" height="85.41" fill="#4454a2" stroke="#1c2456" stroke-width="0.9"/>
<line x1="505.45" y1="255.5" x2="505.45" y2="250.97" stroke="#333" stroke-width="1"/>
<line x1="501.45" y1="250.97" x2="509.45" y2="250.97" stroke="#333" stroke-width="1"/>
<rect x="497.2" y="255.5" width="16.5" height="62.7" fill="#cf2930" stroke="#5a1010" stroke-width="0.9"/>
<line x1="426.6" y1="209.4" x2="426.6" y2="318.2" stroke="#000" stroke-width="1.3"/>
<line x1="423" y1="318.2" x2="426.6" y2="318.2" stroke="#000" stroke-width="1.2"/>
<text x="420.7" y="321.1" font-size="9" text-anchor="end">0.0</text>
<line x1="423" y1="300.07" x2="426.6" y2="300.07" stroke="#000" stroke-width="1.2"/>
<text x="420.7" y="302.97" font-size="9" text-anchor="end">0.2</text>
<line x1="423" y1="281.93" x2="426.6" y2="281.93" stroke="#000" stroke-width="1.2"/>
<text x="420.7" y="284.83" font-size="9" text-anchor="end">0.4</text>
<line x1="423" y1="263.8" x2="426.6" y2="263.8" stroke="#000" stroke-width="1.2"/>
<text x="420.7" y="266.7" font-size="9" text-anchor="end">0.6</text>
<line x1="423" y1="245.67" x2="426.6" y2="245.67" stroke="#000" stroke-width="1.2"/>
<text x="420.7" y="248.57" font-size="9" text-anchor="end">0.8</text>
<line x1="423" y1="227.53" x2="426.6" y2="227.53" stroke="#000" stroke-width="1.2"/>
<text x="420.7" y="230.43" font-size="9" text-anchor="end">1.0</text>
<line x1="423" y1="209.4" x2="426.6" y2="209.4" stroke="#000" stroke-width="1.2"/>
<text x="420.7" y="212.3" font-size="9" text-anchor="end">1.2</text>
<path d="M439.05 260.95V256.5H459.85V275" fill="none" stroke="#444" stroke-width="0.9"/>
<text x="450.1" y="254.4" font-size="7.6" text-anchor="middle">ns</text>
<path d="M484.6 224.41V219.5H505.45V248.57" fill="none" stroke="#444" stroke-width="0.9"/>
<path d="M494.7 213.25L495.36 214.59L496.84 214.8L495.77 215.85L496.02 217.32L494.7 216.62L493.38 217.32L493.63 215.85L492.56 214.8L494.04 214.59Z" fill="#111" stroke="#111" stroke-width="0.45" stroke-linejoin="round"/>
<path d="M425.8 318.2H518.3 M426.4 336.2H517.7 M426.4 354.5H517.7 M426.4 373.5H517.7" stroke="#000" stroke-width="1.2" fill="none"/>
<path d="M425.8 391.3H518.3" stroke="#000" stroke-width="1.2" fill="none"/>
<line x1="426.4" y1="318.2" x2="426.4" y2="391.9" stroke="#000" stroke-width="1.2"/>
<line x1="449.3" y1="318.2" x2="449.3" y2="391.9" stroke="#000" stroke-width="1.2"/>
<line x1="472.2" y1="318.2" x2="472.2" y2="391.9" stroke="#000" stroke-width="1.2"/>
<line x1="495.1" y1="318.2" x2="495.1" y2="391.9" stroke="#000" stroke-width="1.2"/>
<line x1="517.7" y1="318.2" x2="517.7" y2="391.9" stroke="#000" stroke-width="1.2"/>
<text x="425" y="331.3" font-size="8.2" text-anchor="end">Drp1</text>
<text x="438.15" y="332.1" font-size="8.9" text-anchor="middle">WT</text>
<text x="461.05" y="332.1" font-size="8.9" text-anchor="middle">KO</text>
<text x="483.95" y="332.1" font-size="8.9" text-anchor="middle">WT</text>
<text x="506.7" y="332.1" font-size="8.9" text-anchor="middle">KO</text>
<text x="425" y="347.5" font-size="8.2" text-anchor="end">Glucose (mM)</text>
<text x="438.15" y="348.9" font-size="8.9" text-anchor="middle">2.8</text>
<text x="461.05" y="348.9" font-size="8.9" text-anchor="middle">2.8</text>
<text x="483.95" y="348.9" font-size="8.9" text-anchor="middle">16.7</text>
<text x="506.7" y="348.9" font-size="8.9" text-anchor="middle">16.7</text>
<text x="425" y="366.8" font-size="8.2" text-anchor="end">KCl (mM)</text>
<text x="438.15" y="368" font-size="8.9" text-anchor="middle">30</text>
<text x="461.05" y="368" font-size="8.9" text-anchor="middle">30</text>
<text x="483.95" y="368" font-size="8.9" text-anchor="middle">30</text>
<text x="506.7" y="368" font-size="8.9" text-anchor="middle">30</text>
<text x="425" y="385" font-size="8.2" text-anchor="end">Dz (&#956;M)</text>
<text x="438.15" y="386.3" font-size="8.9" text-anchor="middle">200</text>
<text x="461.05" y="386.3" font-size="8.9" text-anchor="middle">200</text>
<text x="483.95" y="386.3" font-size="8.9" text-anchor="middle">200</text>
<text x="506.7" y="386.3" font-size="8.9" text-anchor="middle">200</text>
</svg>
</body></html>
